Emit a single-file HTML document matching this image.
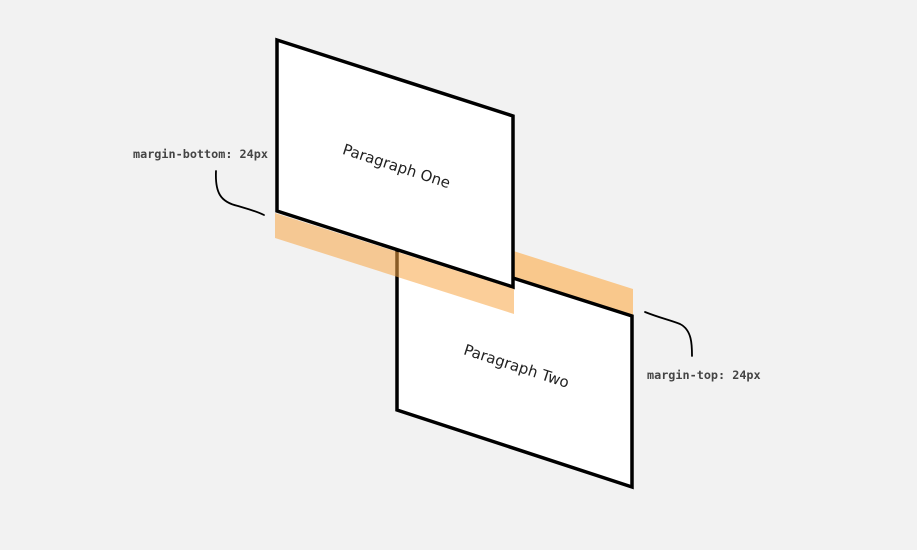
<!DOCTYPE html>
<html><head><style>
html,body{margin:0;padding:0;background:#f2f2f2;}
svg{display:block;}
</style></head><body>
<svg width="917" height="550" viewBox="0 0 917 550" xmlns="http://www.w3.org/2000/svg">
<rect width="917" height="550" fill="#f2f2f2"/>
<polygon points="397,214 633,289 633,316 397,241" fill="rgb(249,200,140)"/>
<polygon points="397,241 632,316 632,487 397,410" fill="#fff" stroke="#000" stroke-width="3.5" stroke-linejoin="miter"/>
<polygon points="277,40 513,116 513,287 277,211" fill="#fff" stroke="#000" stroke-width="3.5" stroke-linejoin="miter"/>
<polygon points="275,213 514,289 514,314 275,238" fill="rgba(247,165,70,0.55)"/>
<text x="395" y="171" transform="rotate(18 395 171)" text-anchor="middle" font-family="'DejaVu Sans','Liberation Sans',sans-serif" font-size="15" fill="#222">Paragraph One</text>
<text x="515" y="371" transform="rotate(18 515 371)" text-anchor="middle" font-family="'DejaVu Sans','Liberation Sans',sans-serif" font-size="15" fill="#222">Paragraph Two</text>
<text x="133" y="158" font-family="'DejaVu Sans Mono','Liberation Mono',monospace" font-size="11.8" font-weight="bold" fill="#444">margin-bottom: 24px</text>
<text x="647" y="379" font-family="'DejaVu Sans Mono','Liberation Mono',monospace" font-size="11.8" font-weight="bold" fill="#444">margin-top: 24px</text>
<path d="M216,171 C215,192 220,202 238,206 C248,209 256,211 264,215" fill="none" stroke="#000" stroke-width="1.8" stroke-linecap="round"/>
<path d="M645,312 C660,318 670,320 680,324 C692,330 692,345 692,356" fill="none" stroke="#000" stroke-width="1.8" stroke-linecap="round"/>
</svg>
</body></html>
